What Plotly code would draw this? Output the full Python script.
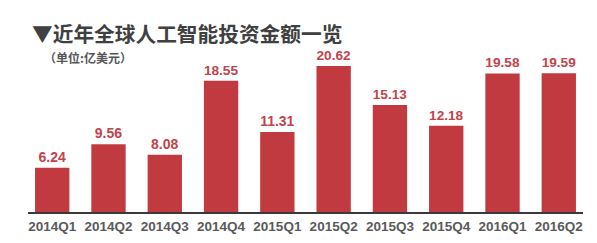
import plotly.graph_objects as go

quarters = ["2014Q1", "2014Q2", "2014Q3", "2014Q4", "2015Q1",
            "2015Q2", "2015Q3", "2015Q4", "2016Q1", "2016Q2"]
investment = [6.24, 9.56, 8.08, 18.55, 11.31, 20.62, 15.13, 12.18, 19.58, 19.59]
labels = ["6.24", "9.56", "8.08", "18.55", "11.31", "20.62", "15.13", "12.18", "19.58", "19.59"]

title_text = "▼近年全球人工智能投资金额一览"
unit_text = "（单位:亿美元）"

BAR = "#c13a40"
W, H = 597, 243
ml, mr, mt, mb = 28, 14, 40, 31

fig = go.Figure(go.Bar(
    x=quarters, y=investment, text=labels,
    textposition="outside", cliponaxis=False,
    marker=dict(color=BAR, line=dict(width=0)),
    textfont=dict(family="Liberation Sans", size=14, color="#c2434b", weight="bold"),
    hoverinfo="skip",
))

fig.update_layout(
    width=W, height=H,
    margin=dict(l=ml, r=mr, t=mt, b=mb, pad=0),
    paper_bgcolor="white", plot_bgcolor="white",
    bargap=0.39, showlegend=False,
    xaxis=dict(type="category", range=[-0.43, 9.43], showgrid=False, zeroline=False,
               showline=True, linecolor="#3a3a3a", linewidth=1.5, ticks="",
               tickfont=dict(family="Liberation Sans", size=13.5, color="#5a5a5a", weight="bold"),
               ticklabelstandoff=1, automargin=False),
    yaxis=dict(range=[0, 24.3], visible=False, automargin=False),
    annotations=[
        dict(text=title_text, xref="paper", yref="paper",
             x=(30 - ml) / (W - ml - mr), y=1 + (mt - 33) / (H - mt - mb),
             xanchor="left", yanchor="middle", showarrow=False,
             font=dict(family="Noto Sans CJK SC", size=20.7, color="#404040", weight="bold")),
        dict(text=unit_text, xref="paper", yref="paper",
             x=(42 - ml) / (W - ml - mr), y=1 + (mt - 58) / (H - mt - mb),
             xanchor="left", yanchor="middle", showarrow=False,
             font=dict(family="Noto Sans CJK SC", size=12, color="#555555", weight="bold")),
    ],
)

fig.write_html("out.html")
